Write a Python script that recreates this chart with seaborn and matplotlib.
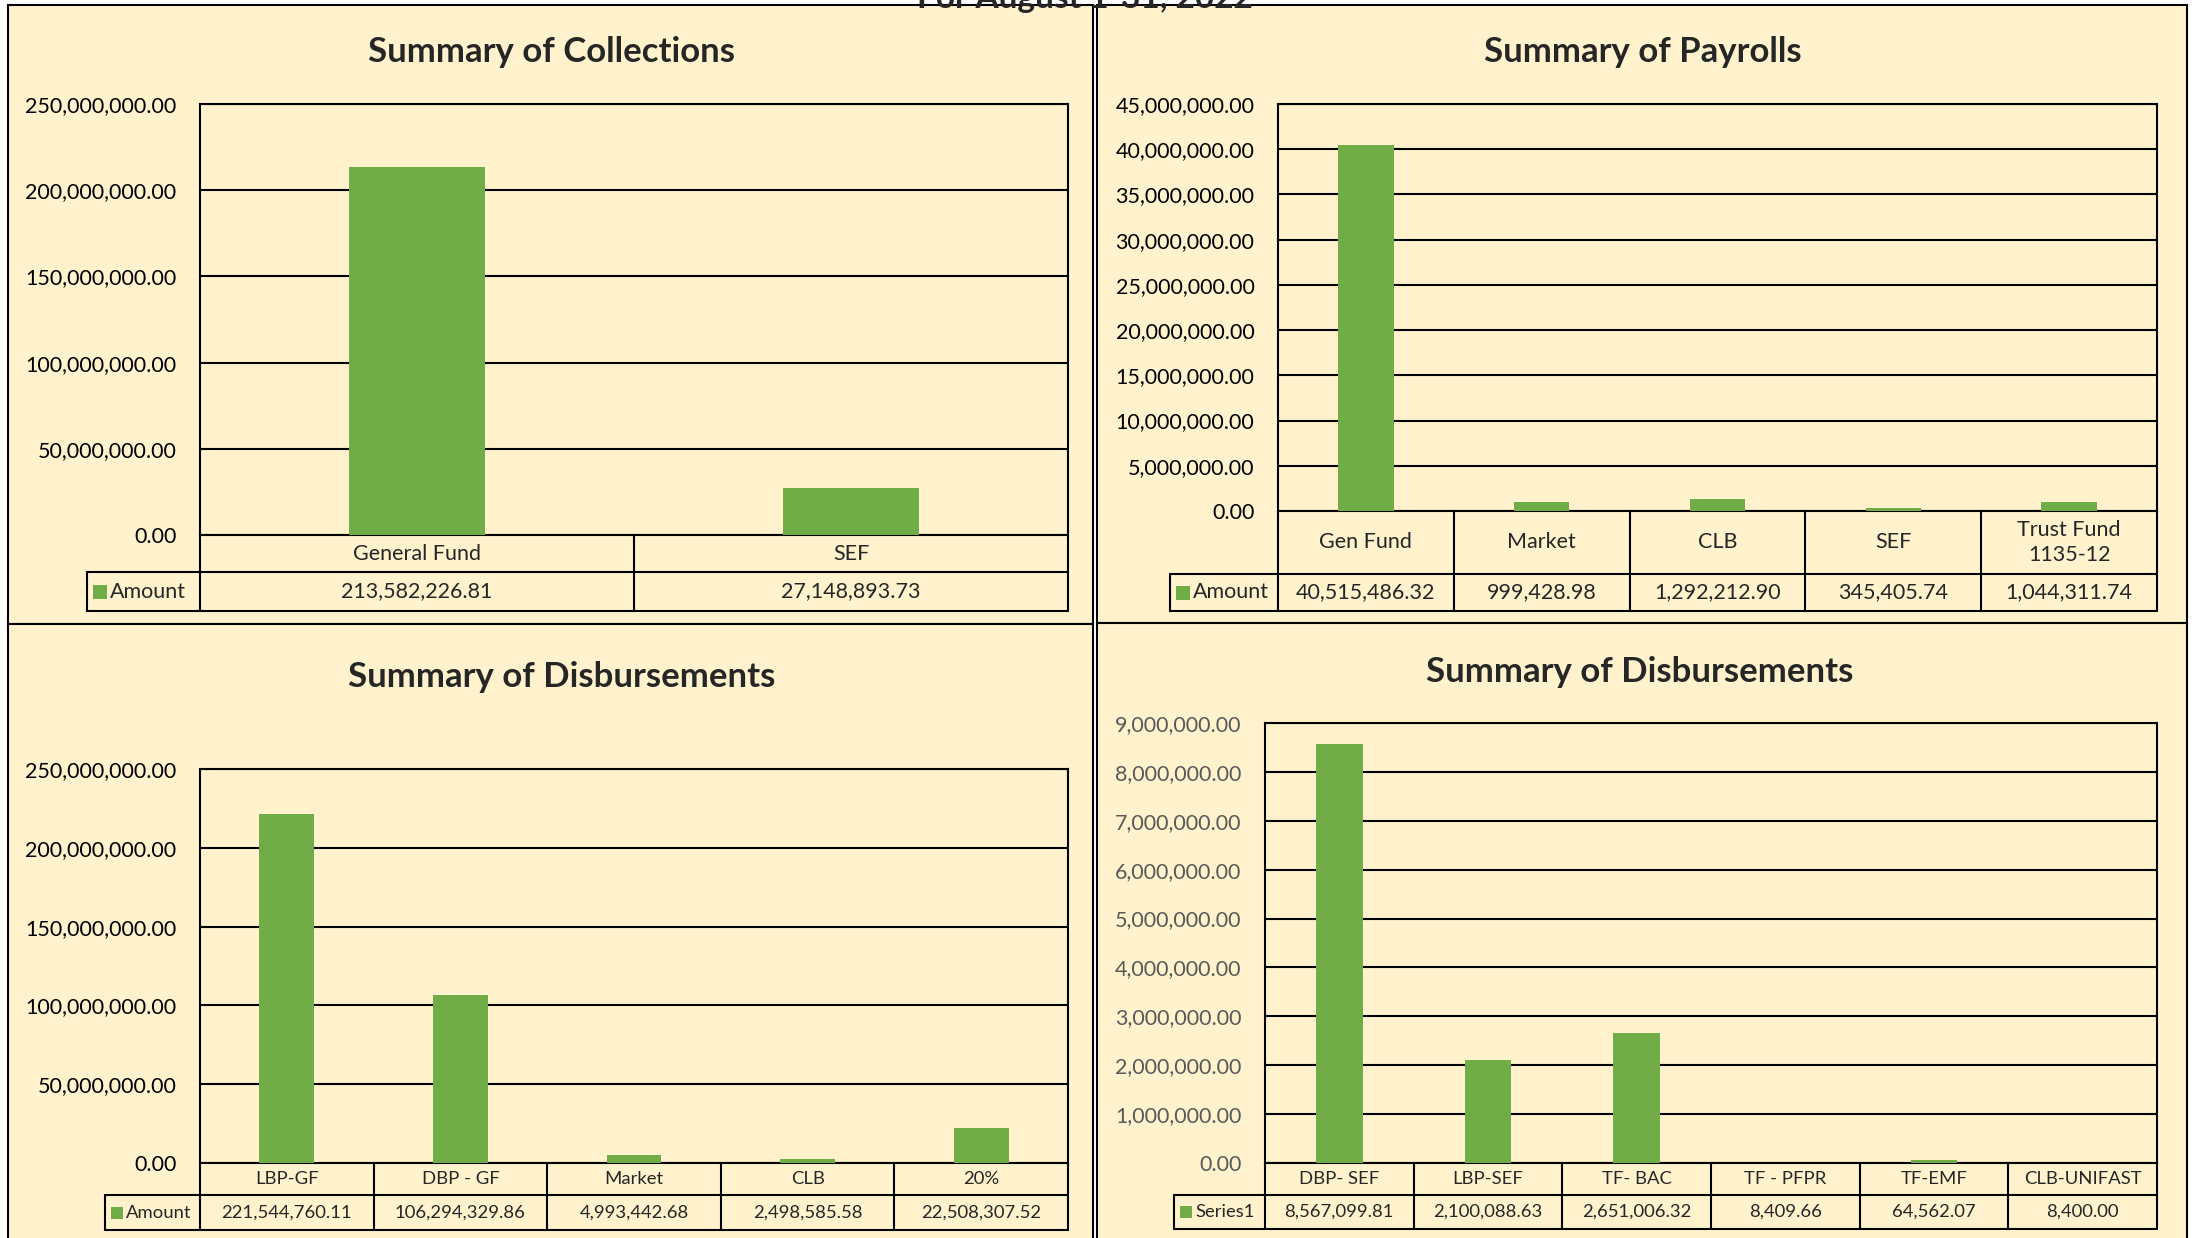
import numpy as np
import matplotlib
matplotlib.use("Agg")
import matplotlib.pyplot as plt
from matplotlib.patches import Rectangle
from matplotlib.ticker import FuncFormatter
import seaborn as sns

# ---------------------------------------------------------------------------
# Data
# ---------------------------------------------------------------------------

MAIN_TITLE = "For August 1-31, 2022"

coll_cats = ["General Fund", "SEF"]
coll_vals = [213582226.81, 27148893.73]

pay_cats = ["Gen Fund", "Market", "CLB", "SEF", "Trust Fund\n1135-12"]
pay_vals = [40515486.32, 999428.98, 1292212.90, 345405.74, 1044311.74]

disb_cats = ["LBP-GF", "DBP - GF", "Market", "CLB", "20%"]
disb_vals = [221544760.11, 106294329.86, 4993442.68, 2498585.58, 22508307.52]

disb2_cats = ["DBP- SEF", "LBP-SEF", "TF- BAC", "TF - PFPR", "TF-EMF", "CLB-UNIFAST"]
disb2_vals = [8567099.81, 2100088.63, 2651006.32, 8409.66, 64562.07, 8400.00]

# ---------------------------------------------------------------------------
# Style
# ---------------------------------------------------------------------------

W, H = 2192, 1238
GREEN = "#70AD47"
PANEL_BG = "#FFF2CC"
LW = 1.5

sns.set_style("white")
plt.rcParams["font.family"] = ["Lato", "DejaVu Sans"]

fig = plt.figure(figsize=(W / 100, H / 100), dpi=100, facecolor="white")


def fx(x):
    return x / W


def fy(y):
    return 1 - y / H


def panel(x0, y0, x1, y1):
    fig.patches.append(Rectangle((fx(x0), fy(y1)), fx(x1 - x0), (y1 - y0) / H,
                                 transform=fig.transFigure, facecolor=PANEL_BG,
                                 edgecolor="black", lw=LW, zorder=-5))


def draw_chart(box, cats, vals, series, ymax, step, title, title_xy,
               cat_h, val_h, leg_x0, fs_table, sq, tick_color="black"):
    x0, y0, x1, y1 = box
    axw, axh = x1 - x0, y1 - y0
    ax = fig.add_axes([fx(x0), fy(y1), axw / W, axh / H])
    sns.barplot(x=cats, y=vals, color=GREEN, saturation=1, width=0.315,
                ax=ax, zorder=3, linewidth=0)
    n = len(cats)
    ax.set_facecolor(PANEL_BG)
    ax.set_axisbelow(True)
    ax.grid(axis="y", color="black", lw=LW)
    ax.grid(axis="x", visible=False)
    for s in ax.spines.values():
        s.set_visible(True)
        s.set_color("black")
        s.set_linewidth(LW)
    ax.set_xticks([])
    ax.set_xlabel("")
    ax.set_ylabel("")
    ax.set_yticks(np.arange(0, ymax + step / 2, step))
    ax.yaxis.set_major_formatter(FuncFormatter(lambda v, p: f"{v:,.2f}"))
    ax.tick_params(axis="y", length=0, pad=17, labelsize=15.5, labelcolor=tick_color)

    # data table under the plot
    yc = -cat_h / axh
    yb = -(cat_h + val_h) / axh
    lx = (leg_x0 - x0) / axw
    kw = dict(transform=ax.transAxes, clip_on=False, color="black", lw=LW)
    for k in range(n + 1):
        ax.plot([k / n, k / n], [0, yb], **kw)
    ax.plot([lx, 1], [yc, yc], **kw)
    ax.plot([lx, 1], [yb, yb], **kw)
    ax.plot([lx, lx], [yc, yb], **kw)
    for i, (c, v) in enumerate(zip(cats, vals)):
        ax.text((i + 0.5) / n, yc / 2, c, transform=ax.transAxes, ha="center",
                va="center", fontsize=fs_table, linespacing=1.3)
        ax.text((i + 0.5) / n, (yc + yb) / 2, f"{v:,.2f}", transform=ax.transAxes,
                ha="center", va="center", fontsize=fs_table)
    ym = (yc + yb) / 2
    sqx = lx + 6 / axw
    ax.add_patch(Rectangle((sqx, ym - sq / 2 / axh), sq / axw, sq / axh,
                           transform=ax.transAxes, clip_on=False,
                           facecolor=GREEN, edgecolor="none"))
    ax.text(sqx + (sq + 3) / axw, ym, series, transform=ax.transAxes,
            ha="left", va="center", fontsize=fs_table)

    ax.set_xlim(-0.5, n - 0.5)
    ax.set_ylim(0, ymax)
    fig.text(fx(title_xy[0]), fy(title_xy[1]), title, ha="center",
             va="baseline", fontsize=25, fontweight="bold")
    return ax


# panel frames
panel(8, 5, 1093, 624)
panel(1097, 5, 2187, 623)
panel(8, 624, 1093, 1245)
panel(1097, 623, 2187, 1245)

draw_chart((200, 104, 1068, 535), coll_cats, coll_vals, "Amount",
           250e6, 50e6, "Summary of Collections", (552, 62),
           37, 39, 87, 15.5, 14)
draw_chart((1278, 104, 2157, 511), pay_cats, pay_vals, "Amount",
           45e6, 5e6, "Summary of Payrolls", (1643, 62),
           63, 37, 1170, 15.5, 14)
draw_chart((200, 769, 1068, 1163), disb_cats, disb_vals, "Amount",
           250e6, 50e6, "Summary of Disbursements", (562, 687),
           32, 35, 105, 13.3, 12)
draw_chart((1265, 723, 2157, 1163), disb2_cats, disb2_vals, "Series1",
           9e6, 1e6, "Summary of Disbursements", (1640, 682),
           32, 34, 1174, 13.3, 12, tick_color="#595959")

fig.text(fx(1085), fy(8), MAIN_TITLE, ha="center", va="baseline",
         fontsize=24, fontweight="bold", zorder=10)

fig.savefig("out.png", dpi=100, facecolor=fig.get_facecolor())
